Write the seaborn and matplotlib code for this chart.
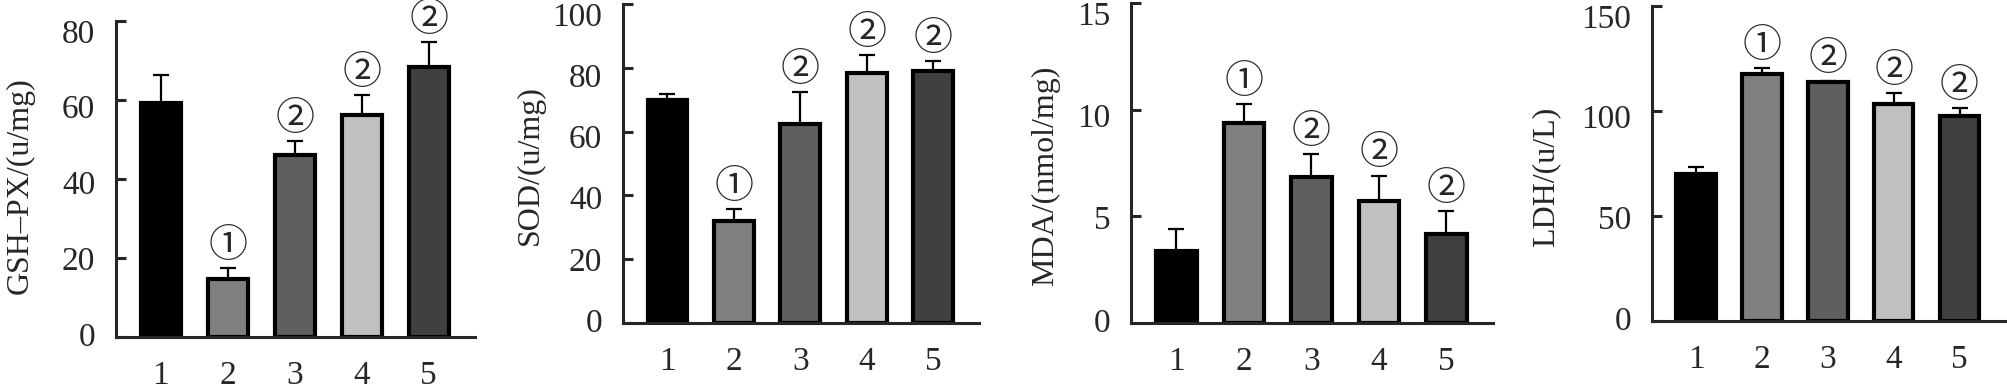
import numpy as np
import pandas as pd
import matplotlib
matplotlib.use('Agg')
import matplotlib.pyplot as plt
import matplotlib.transforms as mtransforms
import seaborn as sns

sns.set_style('ticks')
plt.rcParams['font.family'] = ['Liberation Serif', 'Noto Sans CJK SC', 'DejaVu Sans']

groups = ['1', '2', '3', '4', '5']
colors = ['#000000', '#808080', '#5f5f5f', '#c0c0c0', '#404040']
marks = ['', '①', '②', '②', '②']

# mean and upper error (sd) for each index
gsh_mean = [59.2, 14.6, 46.1, 56.2, 68.4]
gsh_sd = [7.2, 2.8, 3.5, 5.1, 6.2]
sod_mean = [69.9, 32.1, 62.3, 78.5, 79.1]
sod_sd = [1.9, 3.5, 10.0, 5.4, 3.0]
mda_mean = [3.38, 9.39, 6.86, 5.73, 4.17]
mda_sd = [1.01, 0.86, 1.05, 1.18, 1.07]
ldh_mean = [70.0, 117.5, 114.0, 103.3, 97.8]
ldh_sd = [3.5, 2.8, 0.3, 5.1, 3.5]

ylabels = ['GSH–PX/(u/mg)', 'SOD/(u/mg)', 'MDA/(nmol/mg)', 'LDH/(u/L)']
yticks = [[0, 20, 40, 60, 80], [0, 20, 40, 60, 80, 100], [0, 5, 10, 15], [0, 50, 100, 150]]

W, H = 2008, 389
# axes boxes in pixels: left, right, top, bottom
boxes = [(116, 475, 21, 337), (623, 979, 4, 323), (1131, 1493, 3, 323), (1652, 2005, 6, 321)]
label_xy = [(-0.226, 0.48), (-0.219, 0.495), (-0.196, 0.46), (-0.26, 0.457)]

panels = [(gsh_mean, gsh_sd), (sod_mean, sod_sd), (mda_mean, mda_sd), (ldh_mean, ldh_sd)]

fig = plt.figure(figsize=(W / 100, H / 100), dpi=100)

for i, (mean, sd) in enumerate(panels):
    l, r, t, b = boxes[i]
    ax = fig.add_axes([l / W, 1 - b / H, (r - l) / W, (b - t) / H])
    df = pd.DataFrame({'group': groups, 'value': mean})
    sns.barplot(data=df, x='group', y='value', hue='group', palette=colors,
                width=0.6, edgecolor='black', linewidth=3, legend=False, ax=ax)
    x = np.arange(len(groups))
    ax.errorbar(x, mean, yerr=[np.zeros(len(sd)), sd], fmt='none', ecolor='black',
                elinewidth=1.6, capsize=5.5, capthick=1.6, zorder=1)
    for j in range(len(groups)):
        if marks[j]:
            ax.annotate(marks[j], (x[j], mean[j] + sd[j]), xytext=(0, 8),
                        textcoords='offset points', ha='center', va='baseline',
                        fontsize=28, family=['Noto Sans CJK SC', 'DejaVu Sans'])
    ax.set_xlim(-0.67, 4.69)
    ax.set_ylim(yticks[i][0], yticks[i][-1])
    ax.set_yticks(yticks[i])
    ax.set_xlabel('')
    ax.set_ylabel(ylabels[i], fontsize=23)
    ax.yaxis.set_label_coords(*label_xy[i])
    sns.despine(ax=ax)
    for s in ['left', 'bottom']:
        ax.spines[s].set_linewidth(2.2)
    ax.tick_params(axis='y', direction='in', length=7, width=2.2, labelsize=24, pad=15)
    ax.tick_params(axis='x', length=0, labelsize=24, pad=17)
    # the reference's tick labels drift downward toward the top of the axis
    top = yticks[i][-1]
    for v, lab in zip(yticks[i], ax.get_yticklabels()):
        dy = (13 * v / top - 3) / 100
        lab.set_transform(lab.get_transform() +
                          mtransforms.ScaledTranslation(0, -dy, fig.dpi_scale_trans))
    ax.set_facecolor('white')

fig.savefig('out.png', dpi=100, facecolor='white')
